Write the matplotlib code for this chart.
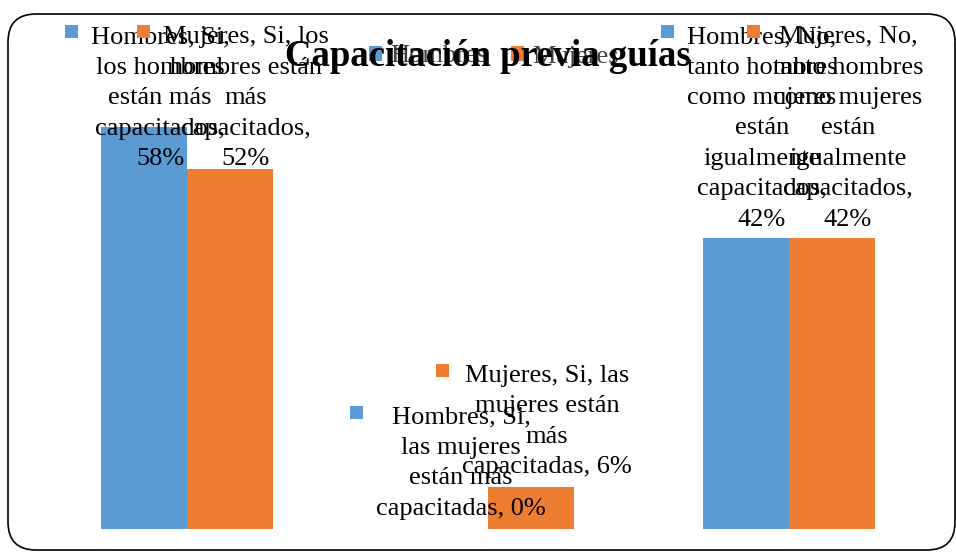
import matplotlib
matplotlib.use('Agg')
import matplotlib.pyplot as plt
from matplotlib.patches import Rectangle, FancyBboxPatch
from matplotlib.transforms import IdentityTransform
import numpy as np

# data
categories = ['Si, los hombres están más capacitados',
              'Si, las mujeres están más capacitadas',
              'No, tanto hombres como mujeres están igualmente capacitados']
hombres = [0.58, 0.00, 0.42]
mujeres = [0.52, 0.06, 0.42]
# data labels, wrapped the way the original shows them
labels_h = ['Hombres, Si,\nlos hombres\nestán más\ncapacitados,\n',
            'Hombres, Si,\nlas mujeres\nestán más\ncapacitadas, ',
            'Hombres, No,\ntanto hombres\ncomo mujeres\nestán\nigualmente\ncapacitados,\n']
labels_m = ['Mujeres, Si, los\nhombres están\nmás\ncapacitados,\n',
            'Mujeres, Si, las\nmujeres están\nmás\ncapacitadas, ',
            'Mujeres, No,\ntanto hombres\ncomo mujeres\nestán\nigualmente\ncapacitados,\n']

blue = '#5B9BD5'
orange = '#ED7D31'
plt.rcParams['font.family'] = ['Liberation Serif', 'DejaVu Serif']

W, H = 956, 552
fig = plt.figure(figsize=(W / 100, H / 100), dpi=100)

# rounded chart border
frame = FancyBboxPatch((8 + 28, 2 + 28), 947 - 56, 536 - 56,
                       boxstyle='round,pad=28', transform=IdentityTransform(),
                       fc='none', ec='black', lw=1.2, zorder=-1)
fig.add_artist(frame)

ax = fig.add_axes([36.5 / W, 23 / H, 903 / W, 485 / H])
ax.set_facecolor('none')
x = np.arange(len(categories))
w = 0.2857
b1 = ax.bar(x - w / 2, hombres, w, color=blue, label='Hombres')
b2 = ax.bar(x + w / 2, mujeres, w, color=orange, label='Mujeres')
ax.set_xlim(-0.5, 2.5)
ax.set_ylim(0, 0.7)
ax.axis('off')

fig.text(487.5 / W, 1 - 66 / H, 'Capacitación previa guías', ha='center', va='baseline',
         fontsize=26.5, fontweight='bold')

ax.legend(loc='center', bbox_to_anchor=(494 / W, 1 - 56.5 / H), bbox_transform=fig.transFigure,
          ncol=2, frameon=False, fontsize=19, handlelength=0.5, handleheight=0.5,
          handletextpad=0.3, columnspacing=0.9, labelcolor='#404040', borderpad=0)

anns = []
for bars, pre, vals, col in [(b1, labels_h, hombres, blue), (b2, labels_m, mujeres, orange)]:
    for bar, p, v in zip(bars, pre, vals):
        t = ax.annotate(p + f'{v * 100:.0f}%', (bar.get_x() + bar.get_width() / 2, v),
                        xytext=(16, 9), textcoords='offset pixels',
                        ha='center', va='bottom', fontsize=19, linespacing=1.5)
        anns.append((t, col))

# keep labels inside the chart top, like Excel does
fig.canvas.draw()
r = fig.canvas.get_renderer()
top_px = H - 26
for t, col in anns:
    bb = t.get_window_extent(r)
    if bb.y1 > top_px:
        dx, dy = t.xyann
        t.xyann = (dx, dy - (bb.y1 - top_px))

fig.canvas.draw()
for t, col in anns:
    bb = t.get_window_extent(r)
    fig.add_artist(Rectangle((bb.x0 - 26, bb.y1 + 1 - 13), 13, 13,
                             transform=IdentityTransform(), fc=col, ec='none'))

fig.savefig('out.png', dpi=100)
